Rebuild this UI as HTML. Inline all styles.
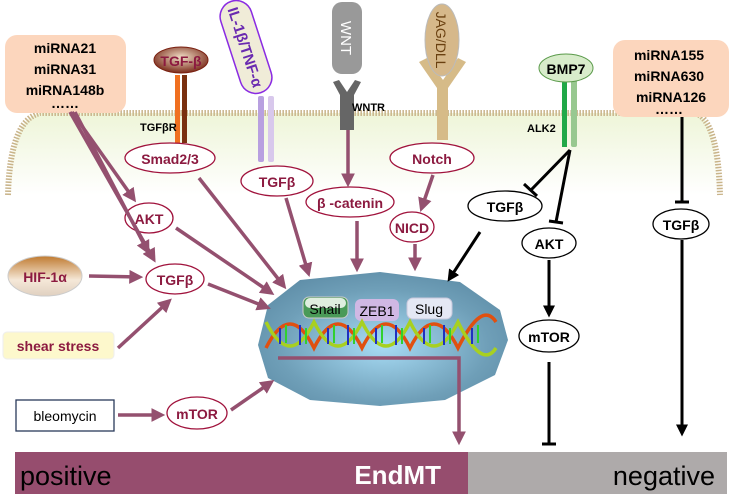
<!DOCTYPE html>
<html><head><meta charset="utf-8"><style>
body{margin:0;background:#fff}
svg{display:block;font-family:"Liberation Sans",sans-serif}
.r{fill:#fff;stroke:#a0123c;stroke-width:1.3}
.rt{fill:#8c1a40;font-weight:bold;font-size:14px;text-anchor:middle}
.b{fill:#fff;stroke:#000;stroke-width:1.3}
.bt{fill:#000;font-weight:bold;font-size:14px;text-anchor:middle}
.pa{stroke:#94506f;stroke-width:3.5;fill:none;marker-end:url(#pa)}
.ka{stroke:#000;stroke-width:3;fill:none}
</style></head><body>
<svg width="734" height="498" viewBox="0 0 734 498">
<defs>
<marker id="pa" markerWidth="4" markerHeight="4" refX="2.5" refY="2" orient="auto"><path d="M0,0L4,2L0,4z" fill="#94506f"/></marker>
<marker id="ka" markerWidth="4" markerHeight="4" refX="2.5" refY="2" orient="auto"><path d="M0,0L4,2L0,4z" fill="#000"/></marker>
<linearGradient id="cell" x1="0" y1="0" x2="0" y2="1"><stop offset="0" stop-color="#eef5d8"/><stop offset="1" stop-color="#fff"/></linearGradient>
<radialGradient id="nuc" cx="0.5" cy="0.55" r="0.6"><stop offset="0" stop-color="#a8dcf5"/><stop offset="0.7" stop-color="#6f9fb8"/><stop offset="1" stop-color="#5f8ea8"/></radialGradient>
<radialGradient id="tgf" cx="0.5" cy="0.4" r="0.6"><stop offset="0" stop-color="#f2e0c8"/><stop offset="1" stop-color="#7a2a1a"/></radialGradient>
<linearGradient id="hif" x1="0" y1="0" x2="0" y2="1"><stop offset="0" stop-color="#c07a30"/><stop offset="0.6" stop-color="#f5e8d8"/><stop offset="1" stop-color="#e0d0c0"/></linearGradient>
</defs>
<path d="M40,113 L695,113 Q718,120 720,195 L8,195 Q10,120 40,113z" fill="url(#cell)"/>
<path d="M8,195 Q10,120 40,113 L695,113 Q718,120 720,195" fill="none" stroke="#c9b48a" stroke-width="6" stroke-dasharray="1.5 1.5"/>
<rect x="5" y="35" width="121" height="78" rx="12" fill="#fcd6bd"/>
<g class="bt" font-size="14"><text x="65" y="53">miRNA21</text><text x="65" y="74">miRNA31</text><text x="65" y="95">miRNA148b</text><text x="65" y="108">……</text></g>
<rect x="175" y="75" width="5" height="68" fill="#f07020"/><rect x="182" y="75" width="5" height="68" fill="#7a3010"/>
<ellipse cx="181" cy="60" rx="27" ry="13" fill="url(#tgf)" stroke="#7a2010"/>
<text x="181" y="66" class="rt" fill="#a0102a">TGF-β</text>
<text x="140" y="131" font-size="11" font-weight="bold">TGFβR</text>
<rect x="258" y="96" width="6" height="66" rx="2" fill="#b8a0e0"/><rect x="268" y="96" width="6" height="66" rx="2" fill="#d8c8ec"/>
<g transform="translate(246,47) rotate(72)"><rect x="-48" y="-16" width="96" height="32" rx="16" fill="#f0ecd8" stroke="#8a2be2" stroke-width="1.5"/><text x="0" y="6" text-anchor="middle" font-size="15" font-weight="bold" fill="#6a2ab0">IL-1β/TNF-α</text></g>
<path d="M333,82 L340,95 L340,130 L354,130 L354,95 L361,82 L355,80 L347,92 L339,80z" fill="#666"/>
<g transform="translate(347,38) rotate(90)"><rect x="-36" y="-15" width="72" height="30" rx="10" fill="#999"/><text x="0" y="6" text-anchor="middle" font-size="15" fill="#fff">WNT</text></g>
<text x="352" y="111" font-size="11" font-weight="bold">WNTR</text>
<path d="M419,62 L437,88 L437,140 L448,140 L448,88 L466,62 L458,58 L443,80 L427,58z" fill="#d6bb88"/>
<g transform="translate(442,40) rotate(90)"><ellipse rx="36" ry="17" fill="#d6b88a" stroke="#bbb"/><text x="0" y="6" text-anchor="middle" font-size="14" fill="#6a4010">JAG/DLL</text></g>
<rect x="562" y="80" width="5" height="67" fill="#20a848"/><rect x="571" y="80" width="6" height="67" rx="2" fill="#98c890"/>
<ellipse cx="566" cy="68" rx="27" ry="14" fill="#d8eccb" stroke="#5a9a4a"/>
<text x="566" y="74" class="bt" fill="#3a6a2a">BMP7</text>
<text x="527" y="132" font-size="11" font-weight="bold">ALK2</text>
<rect x="613" y="40" width="116" height="77" rx="12" fill="#fcd6bd"/>
<g class="bt"><text x="669" y="60">miRNA155</text><text x="669" y="81">miRNA630</text><text x="671" y="102">miRNA126</text><text x="669" y="114">……</text></g>
<path d="M300,280 L380,272 L460,282 L500,310 L508,340 L495,375 L445,400 L380,406 L310,400 L268,378 L258,345 L268,305z" fill="url(#nuc)"/>
<rect x="303" y="297" width="45" height="21" rx="6" fill="#4a9a58" stroke="#ccc"/><rect x="305" y="298" width="41" height="10" rx="5" fill="#dfeedf"/>
<text x="325" y="314" text-anchor="middle" font-size="14">Snail</text>
<rect x="355" y="299" width="44" height="22" rx="6" fill="#d0b8e4"/><text x="377" y="316" text-anchor="middle" font-size="14">ZEB1</text>
<rect x="407" y="298" width="45" height="21" rx="6" fill="#e4e8f4" stroke="#c8c8dc"/><text x="429" y="314" text-anchor="middle" font-size="14">Slug</text>
<g fill="none" stroke-width="3.5">
<path d="M266,348 Q290,300 314,348 Q338,300 362,348 Q386,300 410,348 Q434,300 458,348 Q482,300 496,322" stroke="#e05010"/>
<path d="M266,322 Q290,370 314,322 Q338,370 362,322 Q386,370 410,322 Q434,370 458,322 Q482,370 496,348" stroke="#a8d020"/>
</g>
<g stroke-width="2"><path d="M280,328v16M300,325v20M328,328v16M348,325v20M376,328v16M396,325v20M424,328v16M444,325v20M472,328v16" stroke="#2030c0"/><path d="M286,325v18M306,328v16M334,325v18M354,328v16M382,325v18M402,328v16M430,325v18M450,328v16M478,325v18" stroke="#30d030"/></g>
<path d="M278,358 L459,358 L459,440" class="pa" stroke-width="3.5"/>
<ellipse cx="170" cy="158" rx="45" ry="15" class="r"/><text x="170" y="164" class="rt">Smad2/3</text>
<ellipse cx="277" cy="181" rx="36" ry="15" class="r"/><text x="277" y="187" class="rt">TGFβ</text>
<ellipse cx="350" cy="202" rx="44" ry="15" class="r"/><text x="350" y="208" class="rt">β -catenin</text>
<ellipse cx="432" cy="158" rx="42" ry="15" class="r"/><text x="432" y="164" class="rt">Notch</text>
<ellipse cx="412" cy="227" rx="22" ry="15" class="r"/><text x="412" y="233" class="rt">NICD</text>
<ellipse cx="149" cy="218" rx="24" ry="15" class="r"/><text x="149" y="224" class="rt">AKT</text>
<ellipse cx="175" cy="279" rx="29" ry="15" class="r"/><text x="175" y="285" class="rt">TGFβ</text>
<ellipse cx="197" cy="413" rx="30" ry="16" class="r"/><text x="197" y="419" class="rt">mTOR</text>
<ellipse cx="45" cy="276" rx="37" ry="20" fill="url(#hif)" stroke="#ccc"/><text x="45" y="282" class="rt">HIF-1α</text>
<rect x="3" y="332" width="111" height="27" rx="4" fill="#fdf8cc" stroke="#eee"/><text x="58" y="351" class="rt">shear stress</text>
<rect x="16" y="400" width="98" height="31" fill="#fff" stroke="#2a3a5a" stroke-width="1.3"/><text x="65" y="421" text-anchor="middle" font-size="14">bleomycin</text>
<ellipse cx="505" cy="206" rx="37" ry="15" class="b"/><text x="505" y="212" class="bt">TGFβ</text>
<ellipse cx="549" cy="243" rx="27" ry="15" class="b"/><text x="549" y="249" class="bt">AKT</text>
<ellipse cx="681" cy="224" rx="28" ry="15" class="b"/><text x="681" y="230" class="bt">TGFβ</text>
<ellipse cx="549" cy="336" rx="30" ry="16" class="b"/><text x="549" y="342" class="bt">mTOR</text>
<path class="pa" d="M72,112 L133,198"/>
<path class="pa" d="M70,112 L153,258"/>
<path class="pa" d="M75,112 L147,250"/>
<path class="pa" d="M348,130 L348,182"/>
<path class="pa" d="M433,175 L422,207"/>
<path class="pa" d="M176,228 L270,292"/>
<path class="pa" d="M199,178 L283,285"/>
<path class="pa" d="M286,198 L308,272"/>
<path class="pa" d="M357,221 L357,267"/>
<path class="pa" d="M415,244 L415,266"/>
<path class="pa" d="M208,284 L266,307"/>
<path class="pa" d="M89,276 L138,277"/>
<path class="pa" d="M118,348 L168,302"/>
<path class="pa" d="M118,415 L160,415"/>
<path class="pa" d="M231,410 L270,383"/>
<path class="ka" d="M570,150 L531,190 M524,184 L537,196"/>
<path class="ka" d="M570,150 L556,222 M549,221 L563,223"/>
<path class="ka" d="M480,232 L450,278" marker-end="url(#ka)"/>
<path class="ka" d="M549,260 L549,313" marker-end="url(#ka)"/>
<path class="ka" d="M549,362 L549,444 M542,444 L556,444"/>
<path class="ka" d="M682,117 L682,202 M675,202 L689,202"/>
<path class="ka" d="M682,240 L682,432" marker-end="url(#ka)"/>
<rect x="15" y="452" width="453" height="42" fill="#964d6e"/>
<rect x="468" y="452" width="259" height="42" fill="#aeaaaa"/>
<text x="20" y="485" font-size="27">positive</text>
<text x="441" y="484" font-size="26" font-weight="bold" fill="#fff" text-anchor="end">EndMT</text>
<text x="715" y="485" font-size="27" text-anchor="end">negative</text>
</svg>
</body></html>
